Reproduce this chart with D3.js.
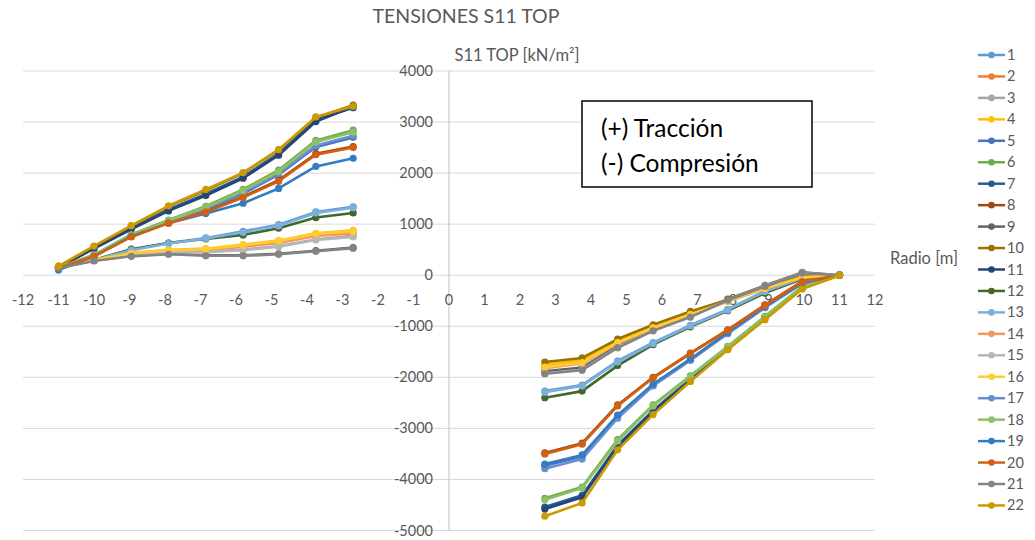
<!DOCTYPE html>
<html>
<head>
<meta charset="utf-8">
<script src="https://cdn.jsdelivr.net/npm/d3@7"></script>
<style>
  html, body { margin: 0; padding: 0; background: #fff; }
  svg { display: block; font-family: Lato, "Open Sans", sans-serif; }
</style>
</head>
<body>
<svg id="chart" width="1035" height="540"></svg>
<script>
// ---------------- DATA ----------------
const chartTitle = "TENSIONES S11 TOP";
const yAxisTitle = "S11 TOP [kN/m²]";
const xAxisTitle = "Radio [m]";
const noteLines = ["(+) Tracción", "(-) Compresión"];

const xTicks = d3.range(-12, 13, 1);
const yTicks = [4000, 3000, 2000, 1000, 0, -1000, -2000, -3000, -4000, -5000];

const xLeft  = [-11, -10, -8.95, -7.9, -6.85, -5.8, -4.8, -3.75, -2.7];
const xRight = [2.7, 3.75, 4.75, 5.75, 6.8, 7.85, 8.9, 9.95, 11];

const seriesNames = ["1","2","3","4","5","6","7","8","9","10","11","12","13","14","15","16","17","18","19","20","21","22"];

const seriesColors = ["#5B9BD5","#ED7D31","#A5A5A5","#FFC000","#4472C4","#70AD47","#255E91","#9E480E",
                      "#636363","#997300","#264478","#43682B","#7CAFDD","#F1975A","#B7B7B7","#FFCD33",
                      "#698ED0","#8CC168","#327DC2","#D26012","#848484","#CC9A00"];

// values at xLeft (series 1..22)
const leftValues = [
  [150, 300, 500, 630, 730, 860, 990, 1240, 1340],      // 1
  [170, 290, 420, 480, 500, 570, 650, 790, 840],        // 2
  [150, 300, 400, 460, 460, 500, 570, 700, 770],        // 3
  [180, 300, 440, 500, 520, 600, 680, 820, 880],        // 4
  [140, 380, 770, 1040, 1290, 1600, 1970, 2510, 2700],  // 5
  [150, 400, 800, 1080, 1350, 1680, 2060, 2640, 2840],  // 6
  [160, 530, 920, 1290, 1590, 1930, 2380, 3050, 3280],  // 7
  [140, 380, 760, 1030, 1250, 1540, 1860, 2380, 2520],  // 8
  [140, 290, 380, 420, 390, 390, 420, 480, 540],        // 9
  [170, 560, 960, 1350, 1660, 2000, 2450, 3090, 3330],  // 10
  [150, 520, 900, 1260, 1560, 1900, 2350, 3010, 3300],  // 11
  [150, 300, 510, 630, 710, 790, 920, 1130, 1220],      // 12
  [140, 300, 490, 620, 720, 840, 970, 1220, 1320],      // 13
  [170, 290, 410, 470, 490, 560, 630, 770, 820],        // 14
  [150, 300, 400, 450, 450, 490, 560, 690, 750],        // 15
  [180, 300, 430, 490, 510, 590, 670, 810, 860],        // 16
  [140, 390, 780, 1050, 1300, 1620, 1990, 2540, 2730],  // 17
  [150, 400, 790, 1070, 1330, 1660, 2030, 2610, 2800],  // 18
  [100, 370, 760, 1020, 1210, 1410, 1700, 2130, 2290],  // 19
  [140, 370, 750, 1020, 1240, 1520, 1840, 2360, 2500],  // 20
  [140, 280, 370, 410, 380, 380, 410, 470, 530],        // 21
  [180, 570, 970, 1360, 1680, 2010, 2460, 3100, 3310]   // 22
];

// values at xRight (series 1..22)
const rightValues = [
  [-2270, -2150, -1680, -1320, -980, -670, -310, -50, 0],     // 1
  [-1780, -1690, -1310, -1020, -760, -505, -250, -30, 0],      // 2
  [-1900, -1830, -1390, -1070, -800, -480, -210, 50, 0],       // 3
  [-1750, -1660, -1290, -1000, -740, -500, -240, -20, 0],      // 4
  [-3730, -3550, -2770, -2150, -1655, -1135, -625, -155, 0],   // 5
  [-4370, -4150, -3220, -2540, -1970, -1395, -805, -220, 0],   // 6
  [-4540, -4310, -3330, -2650, -2035, -1440, -835, -250, 0],   // 7
  [-3480, -3290, -2540, -2000, -1525, -1070, -580, -120, 0],   // 8
  [-1880, -1810, -1380, -1060, -790, -470, -200, 55, 0],       // 9
  [-1700, -1620, -1250, -970, -710, -480, -220, 10, 0],        // 10
  [-4580, -4350, -3360, -2670, -2050, -1450, -840, -255, 0],   // 11
  [-2400, -2270, -1770, -1360, -1010, -695, -350, -75, 0],     // 12
  [-2290, -2170, -1700, -1335, -990, -680, -320, -55, 0],      // 13
  [-1820, -1730, -1340, -1040, -780, -515, -265, -45, 0],      // 14
  [-1920, -1850, -1410, -1080, -810, -490, -215, 45, 0],       // 15
  [-1800, -1710, -1320, -1030, -770, -510, -260, -40, 0],      // 16
  [-3790, -3600, -2800, -2170, -1670, -1145, -635, -160, 0],   // 17
  [-4400, -4170, -3250, -2560, -1985, -1405, -815, -225, 0],   // 18
  [-3700, -3520, -2740, -2130, -1640, -1120, -615, -150, 0],   // 19
  [-3500, -3310, -2560, -2010, -1535, -1080, -590, -125, 0],   // 20
  [-1930, -1860, -1420, -1090, -820, -490, -220, 40, 0],       // 21
  [-4720, -4460, -3420, -2730, -2080, -1460, -870, -270, 0]    // 22
];

// ---------------- DRAW ----------------
const svg = d3.select("#chart");
const textColor = "#595959";

const x = d3.scaleLinear().domain([-12, 12]).range([23, 875]);
const y = d3.scaleLinear().domain([-5000, 4000]).range([530.5, 71]);

// gridlines
svg.append("g").selectAll("line").data(yTicks).join("line")
  .attr("x1", x(-12)).attr("x2", x(12))
  .attr("y1", d => y(d)).attr("y2", d => y(d))
  .attr("stroke", "#d9d9d9").attr("stroke-width", 1);

// vertical axis line at x = 0
svg.append("line")
  .attr("x1", x(0)).attr("x2", x(0))
  .attr("y1", y(4000)).attr("y2", y(-5000))
  .attr("stroke", "#bfbfbf").attr("stroke-width", 1);

// y tick labels
svg.append("g").selectAll("text").data(yTicks).join("text")
  .attr("x", x(0) - 16).attr("y", d => y(d) + 5)
  .attr("text-anchor", "end")
  .attr("font-size", 14.5).attr("fill", textColor)
  .text(d => d);

// x tick labels (below the zero line)
svg.append("g").selectAll("text").data(xTicks).join("text")
  .attr("x", d => x(d)).attr("y", y(0) + 30)
  .attr("text-anchor", "middle")
  .attr("font-size", 14.5).attr("fill", textColor)
  .text(d => d);

// titles
svg.append("text").attr("x", 466).attr("y", 23).attr("text-anchor", "middle")
  .attr("font-size", 19.5).attr("fill", textColor).text(chartTitle);
svg.append("text").attr("x", 517).attr("y", 61).attr("text-anchor", "middle")
  .attr("font-size", 16.5).attr("fill", textColor).text(yAxisTitle);
svg.append("text").attr("x", 890).attr("y", 264).attr("text-anchor", "start")
  .attr("font-size", 16.5).attr("fill", textColor).text(xAxisTitle);

// series
const line = d3.line().x(d => x(d[0])).y(d => y(d[1]));
const seriesData = seriesNames.map((name, i) => ({
  name, color: seriesColors[i],
  parts: [
    xLeft.map((xv, j) => [xv, leftValues[i][j]]),
    xRight.map((xv, j) => [xv, rightValues[i][j]])
  ]
}));

const sg = svg.append("g").selectAll("g").data(seriesData).join("g");
sg.each(function(s) {
  const g = d3.select(this);
  s.parts.forEach(p => {
    g.append("path").attr("d", line(p)).attr("fill", "none")
      .attr("stroke", s.color).attr("stroke-width", 2.6)
      .attr("stroke-linejoin", "round").attr("stroke-linecap", "round");
    g.selectAll(null).data(p).join("circle")
      .attr("cx", d => x(d[0])).attr("cy", d => y(d[1])).attr("r", 3.6)
      .attr("fill", s.color);
  });
});

// note box
const box = svg.append("g");
box.append("rect").attr("x", 582).attr("y", 101).attr("width", 230).attr("height", 86)
  .attr("fill", "#fff").attr("stroke", "#000").attr("stroke-width", 1.5);
box.selectAll("text").data(noteLines).join("text")
  .attr("x", 601).attr("y", (d, i) => 137 + i * 35)
  .attr("font-size", 24.5).attr("fill", "#000").text(d => d);

// legend
const lg = svg.append("g").selectAll("g").data(seriesData).join("g")
  .attr("transform", (d, i) => `translate(0, ${55 + i * 21.45})`);
lg.append("line").attr("x1", 978).attr("x2", 1005).attr("y1", 0).attr("y2", 0)
  .attr("stroke", d => d.color).attr("stroke-width", 2.5);
lg.append("circle").attr("cx", 991.5).attr("cy", 0).attr("r", 3.3).attr("fill", d => d.color);
lg.append("text").attr("x", 1007).attr("y", 5).attr("font-size", 14.5)
  .attr("fill", textColor).text(d => d.name);
</script>
</body>
</html>
